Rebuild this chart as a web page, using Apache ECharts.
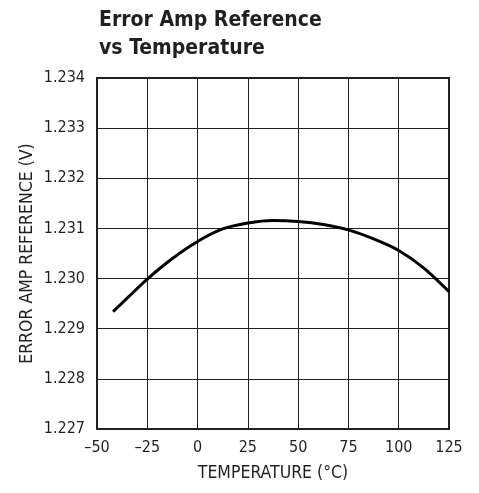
<!DOCTYPE html>
<html>
<head>
<meta charset="utf-8">
<script src="https://cdn.jsdelivr.net/npm/echarts@6/dist/echarts.min.js"></script>
<style>
html,body{margin:0;padding:0;background:#fff;}
#c{width:479px;height:493px;}
</style>
</head>
<body>
<div id="c"></div>
<script>
var temperatures = [-42, -35, -25, -12.5, 0, 12.5, 25, 37.5, 50, 62.5, 75, 87.5, 100, 112.5, 125];
var reference = [1.22934, 1.22961, 1.22999, 1.23040, 1.23074, 1.23099, 1.23111, 1.23116, 1.23114, 1.23108, 1.23097, 1.23079, 1.23056, 1.23021, 1.22974];
var xTicks = ['–50', '–25', '0', '25', '50', '75', '100', '125'];
var titleText = 'Error Amp Reference\nvs Temperature';

var FN = "'Liberation Sans Narrow','DejaVu Sans Condensed','Liberation Sans',sans-serif";
var chart = echarts.init(document.getElementById('c'));
var pts = temperatures.map(function (t, i) { return [t, reference[i]]; });
chart.setOption({
  animation: false,
  title: {
    text: titleText, left: 94, top: 2,
    textStyle: { fontFamily: FN, fontSize: 21, fontWeight: 'bold', color: '#231f20', lineHeight: 28 }
  },
  grid: { left: 97, right: 30, top: 78, bottom: 64, show: true, borderColor: '#231f20', borderWidth: 2, backgroundColor: 'transparent' },
  xAxis: {
    type: 'value', min: -50, max: 125, interval: 25,
    name: 'TEMPERATURE (°C)', nameLocation: 'middle', nameGap: 35,
    nameTextStyle: { fontFamily: FN, fontSize: 17.5, color: '#231f20' },
    axisLine: { show: false },
    axisTick: { show: false },
    axisLabel: {
      margin: 11, fontFamily: FN, fontSize: 16, color: '#231f20',
      formatter: function (v) { var i = Math.round((v + 50) / 25); return xTicks[i]; }
    },
    splitLine: { show: true, lineStyle: { color: '#231f20', width: 1 } }
  },
  yAxis: {
    type: 'value', min: 1.227, max: 1.234, interval: 0.001,
    name: 'ERROR AMP REFERENCE (V)', nameLocation: 'middle', nameGap: 61, nameRotate: 90,
    nameMoveOverlap: false,
    nameTextStyle: { fontFamily: FN, fontSize: 17.5, color: '#231f20' },
    axisLine: { show: false },
    axisTick: { show: false },
    axisLabel: {
      margin: 12, fontFamily: FN, fontSize: 16, color: '#231f20',
      formatter: function (v) { return v.toFixed(3); }
    },
    splitLine: { show: true, lineStyle: { color: '#231f20', width: 1 } }
  },
  series: [{
    type: 'line', data: pts, smooth: 0.3, symbol: 'none',
    lineStyle: { color: '#000', width: 3 }
  }]
});
</script>
</body>
</html>
